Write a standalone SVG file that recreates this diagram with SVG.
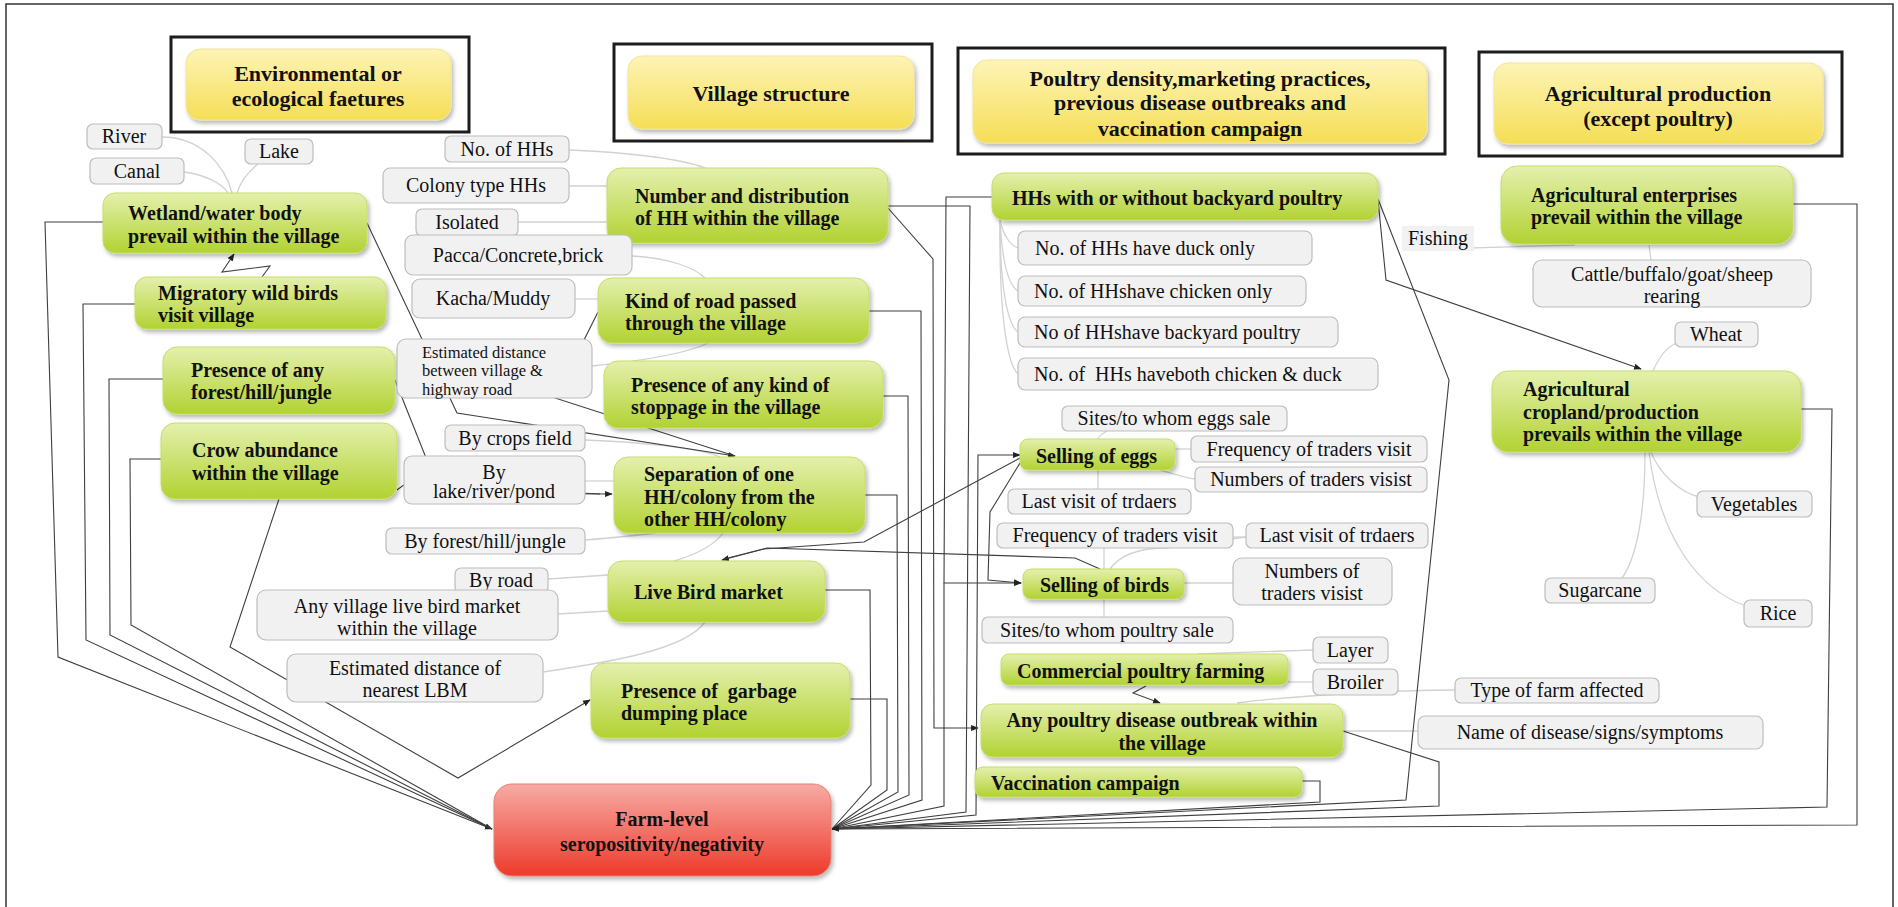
<svg xmlns="http://www.w3.org/2000/svg" width="1898" height="907" viewBox="0 0 1898 907" font-family="'Liberation Serif', 'DejaVu Serif', serif">
<defs>
<linearGradient id="gGreen" x1="0" y1="0" x2="0" y2="1"><stop offset="0" stop-color="#e4f0ad"/><stop offset="1" stop-color="#b2d232"/></linearGradient>
<linearGradient id="gYellow" x1="0" y1="0" x2="0" y2="1"><stop offset="0" stop-color="#fdf4b6"/><stop offset="1" stop-color="#f5de55"/></linearGradient>
<linearGradient id="gRed" x1="0" y1="0" x2="0" y2="1"><stop offset="0" stop-color="#f7aba5"/><stop offset="1" stop-color="#ee3a2b"/></linearGradient>
<filter id="sh" x="-10%" y="-20%" width="130%" height="150%"><feDropShadow dx="2" dy="3" stdDeviation="2" flood-color="#000" flood-opacity="0.28"/></filter>
<marker id="ar" viewBox="0 0 10 10" refX="9" refY="5" markerWidth="7" markerHeight="7" orient="auto"><path d="M0,1 L10,5 L0,9 z" fill="#222"/></marker>
<style>
text{font-family:'Liberation Serif','DejaVu Serif',serif}
.t{font-size:20px;fill:#111}
.b{font-weight:bold}
.h{font-size:22px;font-weight:bold}
.s{font-size:16.5px}
.m{text-anchor:middle}
.grn{fill:url(#gGreen);stroke:#c3de6a;stroke-width:1;filter:url(#sh)}
.yel{fill:url(#gYellow);stroke:#f1e59c;stroke-width:1;filter:url(#sh)}
.red{fill:url(#gRed);stroke:#ea7d75;stroke-width:1;filter:url(#sh)}
.gry{fill:#f1f1f1;stroke:#bdbdbd;stroke-width:1.2}
.frm{fill:none;stroke:#1c1c1c;stroke-width:3}
.c{fill:none;stroke:#3f3f3f;stroke-width:1.1}
.g{fill:none;stroke:#d2d2d2;stroke-width:1.3}
</style>
</defs>
<rect width="1898" height="907" fill="#fff"/>
<rect x="6" y="4" width="1887" height="910" fill="none" stroke="#333" stroke-width="1.5"/>

<!-- light links between sub-items and their parent topics -->
<g id="sub-links">
<path class="g" d="M162,137 C200,137 225,165 232,193"/>
<path class="g" d="M184,172 C205,175 222,183 228,193"/>
<path class="g" d="M258,164 C248,172 240,183 237,193"/>
<path class="g" d="M569,150 C620,152 680,158 705,168"/>
<path class="g" d="M569,186 H607"/>
<path class="g" d="M518,222 H607"/>
<path class="g" d="M632,256 C670,258 695,268 705,278"/>
<path class="g" d="M575,299 H598"/>
<path class="g" d="M592,366 C650,360 690,352 708,343"/>
<path class="g" d="M585,440 C640,442 700,448 720,457"/>
<path class="g" d="M585,481 H614"/>
<path class="g" d="M585,540 C610,538 640,535 655,533"/>
<path class="g" d="M723,533 C715,545 695,555 674,561"/>
<path class="g" d="M548,579 L608,575"/>
<path class="g" d="M558,614 L608,611"/>
<path class="g" d="M543,672 C610,662 685,650 705,622"/>
<path class="g" d="M1000,220 C1003,235 1010,245 1018,248"/>
<path class="g" d="M1000,220 C1002,260 1008,285 1018,291"/>
<path class="g" d="M1000,220 C1000,290 1008,325 1018,332"/>
<path class="g" d="M1000,220 C999,320 1008,365 1018,374"/>
<path class="g" d="M1107,431 C1100,435 1098,437 1098,439"/>
<path class="g" d="M1175,449 H1191"/>
<path class="g" d="M1160,470 C1175,474 1185,478 1195,479"/>
<path class="g" d="M1098,470 V489"/>
<path class="g" d="M1104,548 V569"/>
<path class="g" d="M1110,569 C1120,555 1140,548 1166,548 L1246,537"/>
<path class="g" d="M1233,537 H1246"/>
<path class="g" d="M1184,583 H1233"/>
<path class="g" d="M1104,599 V617"/>
<path class="g" d="M1198,654 L1313,650"/>
<path class="g" d="M1288,682 H1313"/>
<path class="g" d="M1237,703 C1300,695 1400,690 1455,690"/>
<path class="g" d="M1343,731 H1418"/>
<path class="g" d="M1402,250 L1575,245"/>
<path class="g" d="M1649,245 L1651,260"/>
<path class="g" d="M1653,371 C1660,355 1668,346 1677,343"/>
<path class="g" d="M1651,452 C1660,475 1680,492 1699,497"/>
<path class="g" d="M1645,452 C1645,520 1635,560 1622,578"/>
<path class="g" d="M1649,452 C1660,540 1700,590 1746,606"/>
</g>

<!-- relationship connectors -->
<g id="connectors">
<path class="c" d="M103,222 H45 L58,657 L492,829" marker-end="url(#ar)"/>
<path class="c" d="M135,304 H83 L86,640 L492,829"/>
<path class="c" d="M163,379 H109 L110,635 L492,829"/>
<path class="c" d="M161,459 H130 L131,625 L492,829"/>
<path class="c" d="M262,277 L270,266 L222,272 L234,254" marker-end="url(#ar)"/>
<path class="c" d="M367,223 L457,413 L735,456" marker-end="url(#ar)"/>
<path class="c" d="M598,312 L555,398 L735,456"/>
<path class="c" d="M395,380 L440,493 L612,494" marker-end="url(#ar)"/>
<path class="c" d="M397,490 L405,484 L600,494"/>
<path class="c" d="M279,499 L230,647 L458,778 L590,700" marker-end="url(#ar)"/>
<path class="c" d="M1020,458 L864,542 L764,549 L722,560" marker-end="url(#ar)"/>
<path class="c" d="M1100,569 L1075,558 L767,548 L724,559"/>
<path class="c" d="M1146,686 L1133,693 L1160,703" marker-end="url(#ar)"/>
<path class="c" d="M1020,463 L990,512 L988,580 L1021,583" marker-end="url(#ar)"/>
<path class="c" d="M1378,200 L1386,280 L1641,369" marker-end="url(#ar)"/>
<path class="c" d="M869,311 H921 L922,800 L832,829"/>
<path class="c" d="M883,396 H908 L909,795 L832,829"/>
<path class="c" d="M865,495 H897 L898,792 L832,829"/>
<path class="c" d="M825,590 H870 L871,785 L832,829"/>
<path class="c" d="M850,699 H887 L887,790 L832,829"/>
<path class="c" d="M888,206 H970 L966,812 L832,829"/>
<path class="c" d="M888,208 L933,259 L934,728 L978,728" marker-end="url(#ar)"/>
<path class="c" d="M992,197 H946 L944,583 L1021,583" marker-end="url(#ar)"/>
<path class="c" d="M944,583 L944,806 L832,829"/>
<path class="c" d="M832,829 L976,815 L978,455 L1020,455" marker-end="url(#ar)"/>
<path class="c" d="M1378,199 L1449,380 L1406,800 L832,829"/>
<path class="c" d="M1793,204 H1857 L1857,825 L832,829"/>
<path class="c" d="M1801,409 H1832 L1827,807 L832,829"/>
<path class="c" d="M1343,731 L1439,762 L1439,806 L832,829"/>
<path class="c" d="M1302,781 H1320 L1320,802 L832,829" marker-end="url(#ar)"/>
</g>

<!-- category headers -->
<g id="cat-environment">
<rect class="frm" x="171" y="37" width="298" height="95"/>
<rect class="yel" x="186" y="49" width="265" height="71" rx="14"/>
<text class="t h m" x="318" y="73" dominant-baseline="central">Environmental or</text>
<text class="t h m" x="318" y="98" dominant-baseline="central">ecological faetures</text>
</g>
<g id="cat-village">
<rect class="frm" x="614" y="44" width="318" height="97"/>
<rect class="yel" x="628" y="56" width="286" height="73" rx="14"/>
<text class="t h m" x="771" y="93" dominant-baseline="central">Village structure</text>
</g>
<g id="cat-poultry">
<rect class="frm" x="958" y="48" width="487" height="106"/>
<rect class="yel" x="973" y="60" width="454" height="83" rx="14"/>
<text class="t h m" x="1200" y="78" dominant-baseline="central">Poultry density,marketing practices,</text>
<text class="t h m" x="1200" y="102" dominant-baseline="central">previous disease outbreaks and</text>
<text class="t h m" x="1200" y="128" dominant-baseline="central">vaccination campaign</text>
</g>
<g id="cat-agri">
<rect class="frm" x="1479" y="52" width="363" height="104"/>
<rect class="yel" x="1494" y="63" width="329" height="81" rx="14"/>
<text class="t h m" x="1658" y="93" dominant-baseline="central">Agricultural production</text>
<text class="t h m" x="1658" y="118" dominant-baseline="central">(except poultry)</text>
</g>

<!-- main topics -->
<g id="n-wetland"><rect class="grn" x="103" y="193" width="264" height="60" rx="12"/>
<text class="t b" x="128" y="213" dominant-baseline="central">Wetland/water body</text>
<text class="t b" x="128" y="236" dominant-baseline="central">prevail within the village</text></g>
<g id="n-migratory"><rect class="grn" x="135" y="277" width="251" height="52" rx="12"/>
<text class="t b" x="158" y="293" dominant-baseline="central">Migratory wild birds</text>
<text class="t b" x="158" y="315" dominant-baseline="central">visit village</text></g>
<g id="n-forest"><rect class="grn" x="163" y="347" width="232" height="67" rx="14"/>
<text class="t b" x="191" y="370" dominant-baseline="central">Presence of any</text>
<text class="t b" x="191" y="392" dominant-baseline="central">forest/hill/jungle</text></g>
<g id="n-crow"><rect class="grn" x="161" y="423" width="236" height="76" rx="14"/>
<text class="t b" x="192" y="450" dominant-baseline="central">Crow abundance</text>
<text class="t b" x="192" y="473" dominant-baseline="central">within the village</text></g>
<g id="n-number"><rect class="grn" x="607" y="168" width="281" height="75" rx="14"/>
<text class="t b" x="635" y="196" dominant-baseline="central">Number and distribution</text>
<text class="t b" x="635" y="218" dominant-baseline="central">of HH within the village</text></g>
<g id="n-road"><rect class="grn" x="598" y="278" width="271" height="65" rx="14"/>
<text class="t b" x="625" y="301" dominant-baseline="central">Kind of road passed</text>
<text class="t b" x="625" y="323" dominant-baseline="central">through the village</text></g>
<g id="n-stoppage"><rect class="grn" x="604" y="361" width="279" height="67" rx="14"/>
<text class="t b" x="631" y="385" dominant-baseline="central">Presence of any kind of</text>
<text class="t b" x="631" y="407" dominant-baseline="central">stoppage in the village</text></g>
<g id="n-separation"><rect class="grn" x="614" y="457" width="251" height="76" rx="14"/>
<text class="t b" x="644" y="474" dominant-baseline="central">Separation of one</text>
<text class="t b" x="644" y="497" dominant-baseline="central">HH/colony from the</text>
<text class="t b" x="644" y="519" dominant-baseline="central">other HH/colony</text></g>
<g id="n-livebird"><rect class="grn" x="608" y="561" width="217" height="61" rx="14"/>
<text class="t b" x="634" y="592" dominant-baseline="central">Live Bird market</text></g>
<g id="n-garbage"><rect class="grn" x="591" y="663" width="259" height="75" rx="14"/>
<text class="t b" x="621" y="691" dominant-baseline="central" xml:space="preserve">Presence of  garbage</text>
<text class="t b" x="621" y="713" dominant-baseline="central">dumping place</text></g>
<g id="n-outcome"><rect class="red" x="494" y="784" width="337" height="92" rx="18"/>
<text class="t b m" x="662" y="819" font-size="23" dominant-baseline="central">Farm-level</text>
<text class="t b m" x="662" y="844" font-size="23" dominant-baseline="central">seropositivity/negativity</text></g>
<g id="n-backyard"><rect class="grn" x="992" y="173" width="386" height="47" rx="12"/>
<text class="t b" x="1012" y="198" dominant-baseline="central">HHs with or without backyard poultry</text></g>
<g id="n-eggs"><rect class="grn" x="1020" y="439" width="155" height="31" rx="8"/>
<text class="t b" x="1036" y="456" dominant-baseline="central">Selling of eggs</text></g>
<g id="n-birds"><rect class="grn" x="1023" y="569" width="161" height="30" rx="8"/>
<text class="t b" x="1040" y="585" dominant-baseline="central">Selling of birds</text></g>
<g id="n-commercial"><rect class="grn" x="1001" y="654" width="287" height="31" rx="8"/>
<text class="t b" x="1017" y="671" dominant-baseline="central">Commercial poultry farming</text></g>
<g id="n-outbreak"><rect class="grn" x="981" y="704" width="362" height="53" rx="12"/>
<text class="t b m" x="1162" y="720" dominant-baseline="central">Any poultry disease outbreak within</text>
<text class="t b m" x="1162" y="743" dominant-baseline="central">the village</text></g>
<g id="n-vaccination"><rect class="grn" x="975" y="767" width="327" height="30" rx="8"/>
<text class="t b" x="991" y="783" dominant-baseline="central">Vaccination campaign</text></g>
<g id="n-enterprises"><rect class="grn" x="1501" y="166" width="292" height="78" rx="16"/>
<text class="t b" x="1531" y="195" dominant-baseline="central">Agricultural enterprises</text>
<text class="t b" x="1531" y="217" dominant-baseline="central">prevail within the village</text></g>
<g id="n-cropland"><rect class="grn" x="1492" y="371" width="309" height="81" rx="16"/>
<text class="t b" x="1523" y="389" dominant-baseline="central">Agricultural</text>
<text class="t b" x="1523" y="412" dominant-baseline="central">cropland/production</text>
<text class="t b" x="1523" y="434" dominant-baseline="central">prevails within the village</text></g>

<!-- sub-items -->
<g id="s-river"><rect class="gry" x="87" y="124" width="75" height="25" rx="6"/><text class="t m" x="124" y="136" dominant-baseline="central">River</text></g>
<g id="s-lake"><rect class="gry" x="245" y="139" width="68" height="25" rx="6"/><text class="t m" x="279" y="151" dominant-baseline="central">Lake</text></g>
<g id="s-canal"><rect class="gry" x="90" y="158" width="94" height="26" rx="6"/><text class="t m" x="137" y="171" dominant-baseline="central">Canal</text></g>
<g id="s-nohh"><rect class="gry" x="445" y="136" width="124" height="26" rx="6"/><text class="t m" x="507" y="149" dominant-baseline="central">No. of HHs</text></g>
<g id="s-colony"><rect class="gry" x="383" y="168" width="186" height="35" rx="7"/><text class="t m" x="476" y="185" dominant-baseline="central">Colony type HHs</text></g>
<g id="s-isolated"><rect class="gry" x="416" y="209" width="102" height="27" rx="6"/><text class="t m" x="467" y="222" dominant-baseline="central">Isolated</text></g>
<g id="s-pacca"><rect class="gry" x="405" y="235" width="227" height="40" rx="8"/><text class="t m" x="518" y="255" dominant-baseline="central">Pacca/Concrete,brick</text></g>
<g id="s-kacha"><rect class="gry" x="412" y="279" width="163" height="39" rx="8"/><text class="t m" x="493" y="298" dominant-baseline="central">Kacha/Muddy</text></g>
<g id="s-highway"><rect class="gry" x="397" y="339" width="195" height="59" rx="9"/>
<text class="t s" x="422" y="352" dominant-baseline="central">Estimated distance</text>
<text class="t s" x="422" y="370" dominant-baseline="central">between village &amp;</text>
<text class="t s" x="422" y="389" dominant-baseline="central">highway road</text></g>
<g id="s-crops"><rect class="gry" x="445" y="425" width="140" height="26" rx="6"/><text class="t m" x="515" y="438" dominant-baseline="central">By crops field</text></g>
<g id="s-lakeriver"><rect class="gry" x="404" y="456" width="181" height="48" rx="8"/>
<text class="t m" x="494" y="472" dominant-baseline="central">By</text>
<text class="t m" x="494" y="491" dominant-baseline="central">lake/river/pond</text></g>
<g id="s-byforest"><rect class="gry" x="386" y="528" width="199" height="26" rx="6"/><text class="t m" x="485" y="541" dominant-baseline="central">By forest/hill/jungle</text></g>
<g id="s-byroad"><rect class="gry" x="455" y="568" width="93" height="25" rx="6"/><text class="t m" x="501" y="580" dominant-baseline="central">By road</text></g>
<g id="s-anylbm"><rect class="gry" x="257" y="590" width="301" height="50" rx="9"/>
<text class="t m" x="407" y="606" dominant-baseline="central">Any village live bird market</text>
<text class="t m" x="407" y="628" dominant-baseline="central">within the village</text></g>
<g id="s-distlbm"><rect class="gry" x="287" y="654" width="256" height="48" rx="9"/>
<text class="t m" x="415" y="668" dominant-baseline="central">Estimated distance of</text>
<text class="t m" x="415" y="690" dominant-baseline="central">nearest LBM</text></g>
<g id="s-duck"><rect class="gry" x="1018" y="231" width="294" height="34" rx="7"/><text class="t" x="1035" y="248" dominant-baseline="central">No. of HHs have duck only</text></g>
<g id="s-chicken"><rect class="gry" x="1018" y="276" width="288" height="30" rx="7"/><text class="t" x="1034" y="291" dominant-baseline="central">No. of HHshave chicken only</text></g>
<g id="s-backyard"><rect class="gry" x="1018" y="317" width="320" height="30" rx="7"/><text class="t" x="1034" y="332" dominant-baseline="central">No of HHshave backyard poultry</text></g>
<g id="s-both"><rect class="gry" x="1018" y="358" width="360" height="32" rx="7"/><text class="t" x="1034" y="374" dominant-baseline="central" xml:space="preserve">No. of  HHs haveboth chicken &amp; duck</text></g>
<g id="s-eggsites"><rect class="gry" x="1062" y="406" width="225" height="25" rx="6"/><text class="t m" x="1174" y="418" dominant-baseline="central">Sites/to whom eggs sale</text></g>
<g id="s-eggfreq"><rect class="gry" x="1191" y="436" width="236" height="26" rx="6"/><text class="t m" x="1309" y="449" dominant-baseline="central">Frequency of traders visit</text></g>
<g id="s-eggnum"><rect class="gry" x="1195" y="467" width="232" height="25" rx="6"/><text class="t m" x="1311" y="479" dominant-baseline="central">Numbers of traders visist</text></g>
<g id="s-egglast"><rect class="gry" x="1008" y="489" width="183" height="25" rx="6"/><text class="t m" x="1099" y="501" dominant-baseline="central">Last visit of trdaers</text></g>
<g id="s-birdfreq"><rect class="gry" x="997" y="523" width="236" height="25" rx="6"/><text class="t m" x="1115" y="535" dominant-baseline="central">Frequency of traders visit</text></g>
<g id="s-birdlast"><rect class="gry" x="1246" y="523" width="182" height="25" rx="6"/><text class="t m" x="1337" y="535" dominant-baseline="central">Last visit of trdaers</text></g>
<g id="s-birdnum"><rect class="gry" x="1233" y="558" width="159" height="47" rx="9"/>
<text class="t m" x="1312" y="571" dominant-baseline="central">Numbers of</text>
<text class="t m" x="1312" y="593" dominant-baseline="central">traders visist</text></g>
<g id="s-birdsites"><rect class="gry" x="982" y="617" width="251" height="26" rx="6"/><text class="t m" x="1107" y="630" dominant-baseline="central">Sites/to whom poultry sale</text></g>
<g id="s-layer"><rect class="gry" x="1313" y="637" width="75" height="26" rx="6"/><text class="t m" x="1350" y="650" dominant-baseline="central">Layer</text></g>
<g id="s-broiler"><rect class="gry" x="1313" y="669" width="85" height="26" rx="6"/><text class="t m" x="1355" y="682" dominant-baseline="central">Broiler</text></g>
<g id="s-farmtype"><rect class="gry" x="1455" y="678" width="204" height="25" rx="6"/><text class="t m" x="1557" y="690" dominant-baseline="central">Type of farm affected</text></g>
<g id="s-disease"><rect class="gry" x="1418" y="716" width="345" height="33" rx="7"/><text class="t m" x="1590" y="732" dominant-baseline="central">Name of disease/signs/symptoms</text></g>
<g id="s-fishing"><rect x="1402" y="226" width="72" height="25" fill="#f1f1f1"/><text class="t m" x="1438" y="238" dominant-baseline="central">Fishing</text></g>
<g id="s-cattle"><rect class="gry" x="1533" y="260" width="278" height="47" rx="9"/>
<text class="t m" x="1672" y="274" dominant-baseline="central">Cattle/buffalo/goat/sheep</text>
<text class="t m" x="1672" y="296" dominant-baseline="central">rearing</text></g>
<g id="s-wheat"><rect class="gry" x="1675" y="322" width="83" height="25" rx="6"/><text class="t m" x="1716" y="334" dominant-baseline="central">Wheat</text></g>
<g id="s-veg"><rect class="gry" x="1697" y="491" width="115" height="26" rx="6"/><text class="t m" x="1754" y="504" dominant-baseline="central">Vegetables</text></g>
<g id="s-sugar"><rect class="gry" x="1545" y="578" width="110" height="25" rx="6"/><text class="t m" x="1600" y="590" dominant-baseline="central">Sugarcane</text></g>
<g id="s-rice"><rect class="gry" x="1744" y="600" width="68" height="27" rx="6"/><text class="t m" x="1778" y="613" dominant-baseline="central">Rice</text></g>
</svg>
